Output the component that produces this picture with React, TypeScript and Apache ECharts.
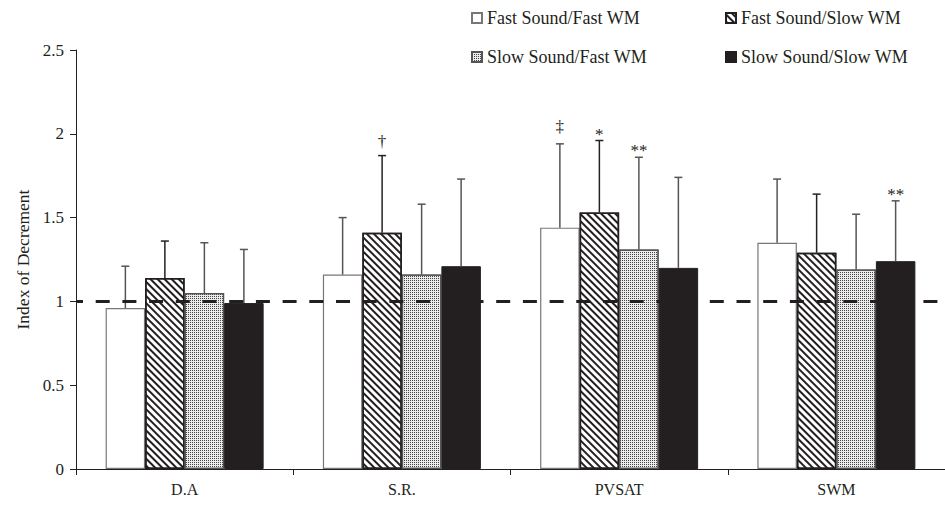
import React, { useEffect, useRef } from "react";
import * as echarts from "echarts";

const categories = ["D.A", "S.R.", "PVSAT", "SWM"];
const seriesNames = [
  "Fast Sound/Fast WM",
  "Fast Sound/Slow WM",
  "Slow Sound/Fast WM",
  "Slow Sound/Slow WM",
];
const fastFast = [0.96, 1.16, 1.44, 1.35];
const fastSlow = [1.14, 1.41, 1.53, 1.29];
const slowFast = [1.05, 1.16, 1.31, 1.19];
const slowSlow = [0.99, 1.21, 1.2, 1.24];
const fastFastSD = [0.25, 0.34, 0.5, 0.38];
const fastSlowSD = [0.22, 0.46, 0.43, 0.35];
const slowFastSD = [0.3, 0.42, 0.55, 0.33];
const slowSlowSD = [0.32, 0.52, 0.54, 0.36];
const fastFastMark = ["", "", "‡", ""];
const fastSlowMark = ["", "†", "*", ""];
const slowFastMark = ["", "", "**", ""];
const slowSlowMark = ["", "", "", "**"];
const referenceLine = 1;

const FONT = "'Liberation Serif', 'Times New Roman', serif";
const INK = "#231f20";
const GAP = 0.2727;

export default function App() {
  const ref = useRef<HTMLDivElement>(null);
  useEffect(() => {
    if (!ref.current) return;
    const chart = echarts.init(ref.current, null, { renderer: "svg" });
    const means = [fastFast, fastSlow, slowFast, slowSlow];
    const sds = [fastFastSD, fastSlowSD, slowFastSD, slowSlowSD];
    const marks = [fastFastMark, fastSlowMark, slowFastMark, slowSlowMark];
    const errColors = ["#555", "#222", "#555", "#555"];
    const errData: any[] = [];
    means.forEach((arr, s) =>
      arr.forEach((v, c) => {
        errData.push([c, v, v + sds[s][c], s, marks[s][c]]);
      })
    );
    const styles: any[] = [
      { color: "#ffffff", borderColor: "#777", borderWidth: 1.2 },
      {
        color: "#ffffff",
        borderColor: INK,
        borderWidth: 1.5,
        decal: {
          symbol: "rect",
          symbolSize: 1,
          color: INK,
          dashArrayX: [1, 0],
          dashArrayY: [2, 3],
          rotation: Math.PI / 4,
        },
      },
      {
        color: "#ececec",
        borderColor: "#555",
        borderWidth: 1.2,
        decal: {
          symbol: "rect",
          symbolSize: 1,
          color: "#444",
          dashArrayX: [1, 1],
          dashArrayY: [1, 1],
          rotation: 0,
        },
      },
      { color: INK, borderColor: INK, borderWidth: 1 },
    ];
    const barSeries = means.map((arr, s) => ({
      type: "bar",
      name: seriesNames[s],
      data: arr,
      barGap: "0%",
      barCategoryGap: GAP * 100 + "%",
      itemStyle: styles[s],
      z: 2,
      ...(s === 3
        ? {
            markLine: {
              silent: true,
              symbol: "none",
              label: { show: false },
              lineStyle: { color: INK, width: 3, type: [14, 12.7], dashOffset: 7 },
              data: [{ yAxis: referenceLine }],
              z: 10,
            },
          }
        : {}),
    }));
    const legendText = { fontFamily: FONT, fontSize: 18, color: INK, lineHeight: 18 };
    chart.setOption({
      animation: false,
      backgroundColor: "#ffffff",
      legend: [
        {
          data: [seriesNames[0], seriesNames[2]],
          orient: "vertical",
          left: 466,
          top: 4,
          itemWidth: 10,
          itemHeight: 10,
          itemGap: 21,
          selectedMode: false,
          icon: "rect",
          textStyle: legendText,
        },
        {
          data: [seriesNames[1], seriesNames[3]],
          orient: "vertical",
          left: 720,
          top: 4,
          itemWidth: 10,
          itemHeight: 10,
          itemGap: 21,
          selectedMode: false,
          icon: "rect",
          textStyle: legendText,
        },
      ],
      grid: { left: 76, top: 50, width: 880, height: 419 },
      xAxis: {
        type: "category",
        data: categories,
        axisLine: { lineStyle: { color: INK, width: 1 } },
        axisTick: { show: true, length: 6, interval: 0, lineStyle: { color: INK } },
        axisLabel: { fontFamily: FONT, fontSize: 16, color: INK, margin: 12 },
      },
      yAxis: {
        type: "value",
        min: 0,
        max: 2.5,
        interval: 0.5,
        name: "Index of Decrement",
        nameLocation: "middle",
        nameGap: 44,
        nameTextStyle: { fontFamily: FONT, fontSize: 17.5, color: INK },
        axisLine: { show: true, lineStyle: { color: INK, width: 1 } },
        axisTick: { show: true, length: 6, lineStyle: { color: INK } },
        splitLine: { show: false },
        axisLabel: { fontFamily: FONT, fontSize: 17, color: INK, margin: 12 },
      },
      series: [
        ...barSeries,
        {
          type: "custom",
          name: "err",
          data: errData,
          z: 5,
          encode: { x: 0, y: 1 },
          renderItem: (params: any, api: any) => {
            const c = api.value(0);
            const v = api.value(1);
            const top = api.value(2);
            const s = api.value(3);
            const mark = errData[params.dataIndex][4];
            const band = api.size([1, 0])[0];
            const bw = (band * (1 - GAP)) / 4;
            const p0 = api.coord([c, v]);
            const p1 = api.coord([c, top]);
            const x = p0[0] + (s - 1.5) * bw;
            const col = errColors[s];
            const children: any[] = [
              {
                type: "line",
                shape: { x1: x, y1: p0[1], x2: x, y2: p1[1] },
                style: { stroke: col, lineWidth: 1.5 },
              },
              {
                type: "line",
                shape: { x1: x - 4, y1: p1[1], x2: x + 4, y2: p1[1] },
                style: { stroke: col, lineWidth: 1.5 },
              },
            ];
            if (mark) {
              const dagger = mark === "‡" || mark === "†";
              children.push({
                type: "text",
                style: {
                  text: mark,
                  x: x,
                  y: p1[1] - (mark === "‡" ? 9 : dagger ? 6 : -2),
                  align: "center",
                  verticalAlign: "bottom",
                  fontFamily: FONT,
                  fontSize: 17,
                  fill: INK,
                },
              });
            }
            return { type: "group", children };
          },
        },
      ],
    });
    return () => chart.dispose();
  }, []);
  return (
    <div
      ref={ref}
      style={{ position: "fixed", left: 0, top: 0, width: 945, height: 508 }}
    />
  );
}
